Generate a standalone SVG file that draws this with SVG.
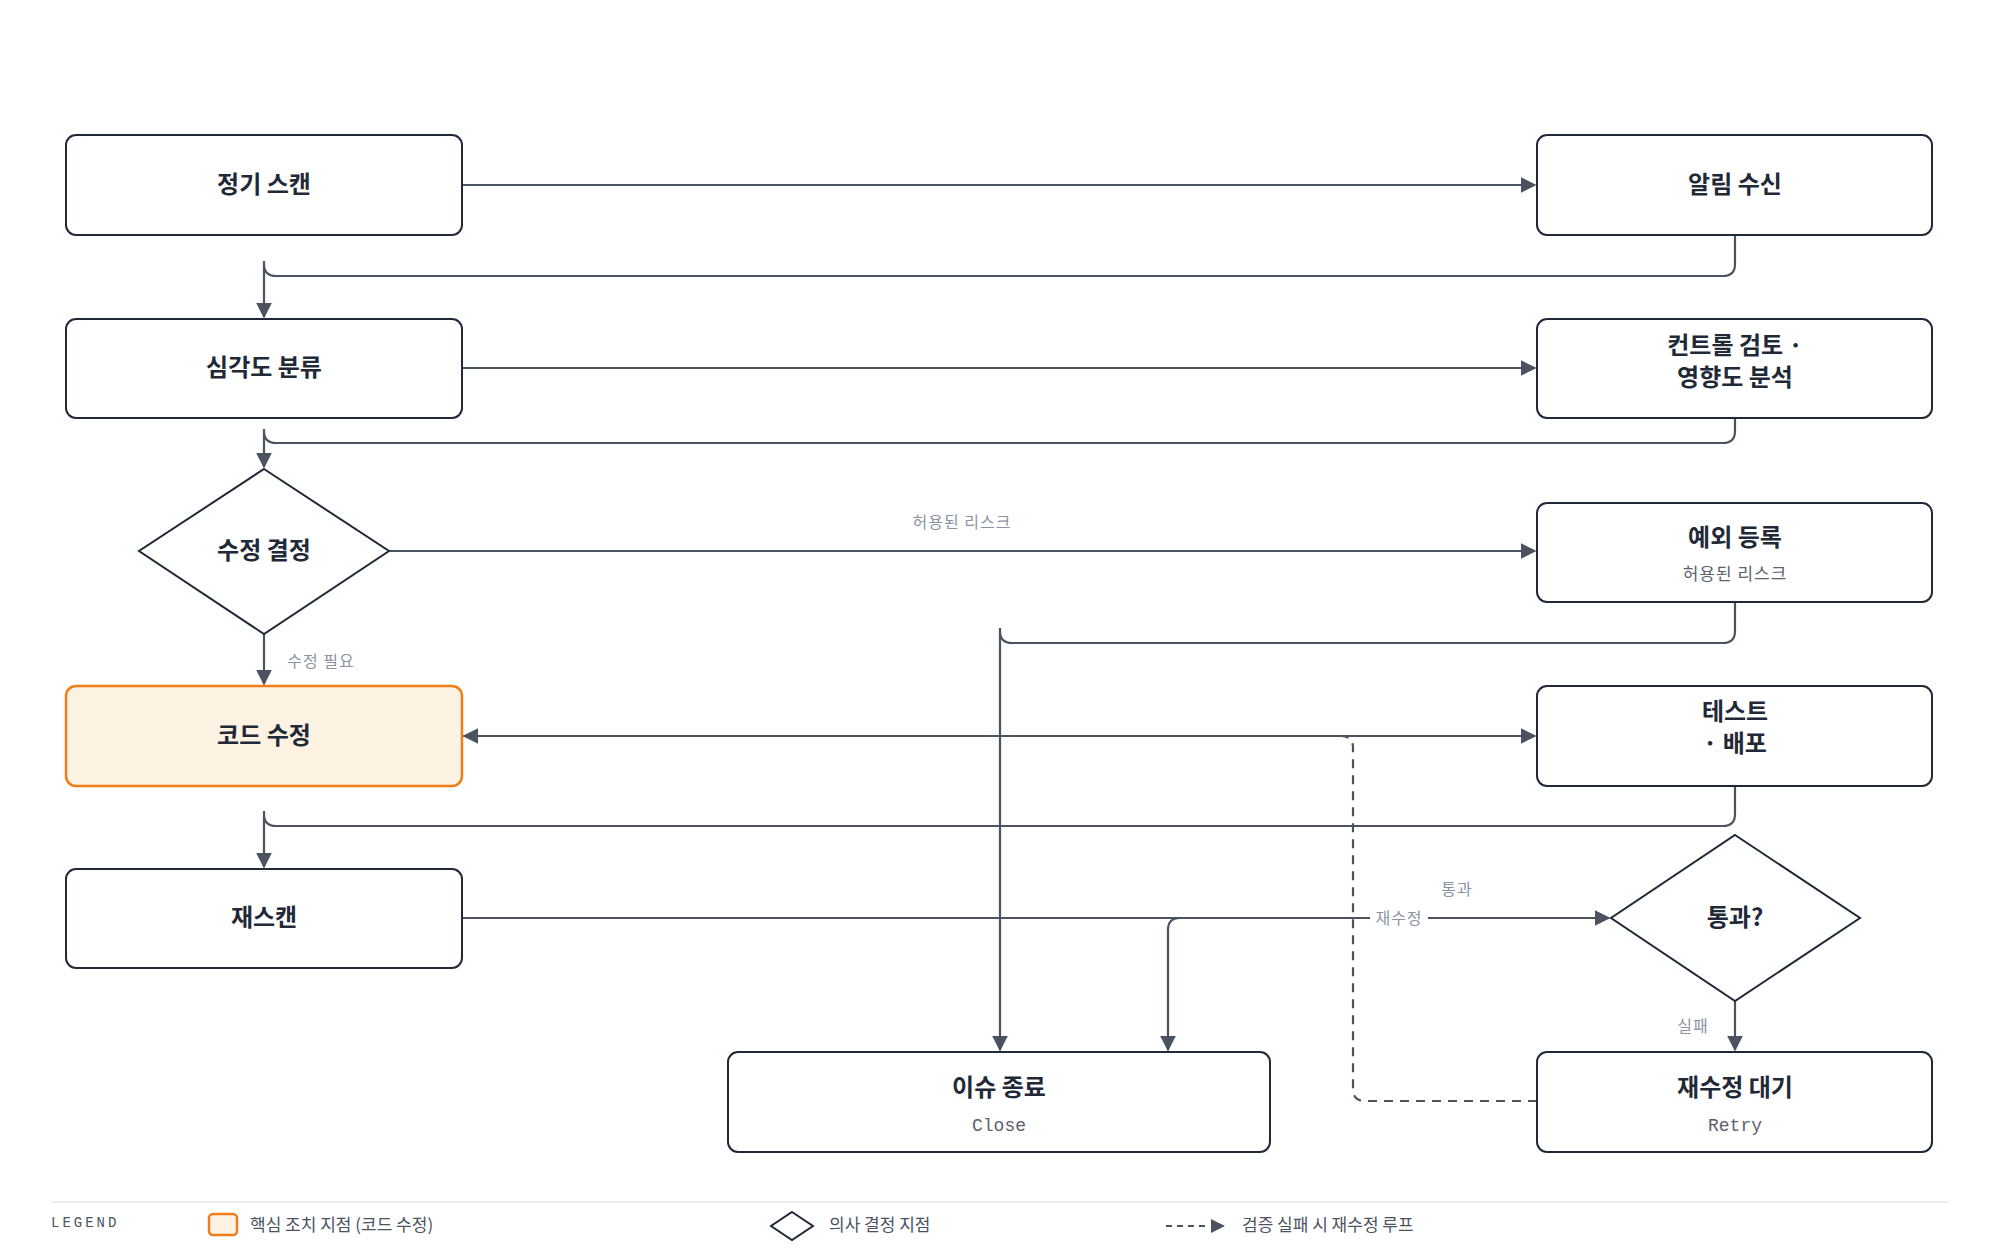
<svg xmlns="http://www.w3.org/2000/svg" width="2000" height="1252" viewBox="0 0 2000 1252">
<defs>
<marker id="ahL" viewBox="0 0 10 10" refX="9" refY="5" markerWidth="16" markerHeight="16" orient="auto" markerUnits="userSpaceOnUse">
<path d="M0,0 L10,5 L0,10 z" fill="#4b5260"/>
</marker>
<style>
.box{fill:#fff;stroke:#1f2937;stroke-width:2}
.key{fill:#fef3e2;stroke:#f07d1a;stroke-width:2.5}
.t{font-family:"Noto Sans CJK KR","Noto Sans",sans-serif;font-weight:700;font-size:24px;fill:#1f2937;text-anchor:middle}
.s{font-family:"Liberation Mono","DejaVu Sans Mono","Noto Sans CJK KR",monospace;font-size:18px;fill:#5b6270;text-anchor:middle}
.e{stroke:#4b5260;stroke-width:2.2;fill:none}
.d{stroke:#4b5260;stroke-width:2.2;fill:none;stroke-dasharray:9 7}
.l{font-family:"Noto Sans CJK KR","Noto Sans",sans-serif;font-size:16px;fill:#8a93a3;text-anchor:middle;letter-spacing:1px}
.lg{font-family:"Noto Sans CJK KR","Noto Sans",sans-serif;font-size:17px;fill:#4b5260}
</style>
</defs>
<g id="connectors">
<path class="e" d="M462 185 H1535" marker-end="url(#ahL)"/>
<path class="e" d="M1735 235 V264 Q1735 276 1723 276 H276 Q264 276 264 264 M264 261 V317" marker-end="url(#ahL)"/>
<path class="e" d="M462 368 H1535" marker-end="url(#ahL)"/>
<path class="e" d="M1735 418 V431 Q1735 443 1723 443 H276 Q264 443 264 431 M264 429 V467" marker-end="url(#ahL)"/>
<path class="e" d="M389 551 H1535" marker-end="url(#ahL)"/>
<path class="e" d="M264 634 V684" marker-end="url(#ahL)"/>
<path class="e" d="M1735 602 V631 Q1735 643 1723 643 H1012 Q1000 643 1000 631 M1000 628 V1050" marker-end="url(#ahL)"/>
<path class="d" d="M1537 1101 H1365 Q1353 1101 1353 1089 V748 Q1353 736 1341 736 H464" marker-end="url(#ahL)"/>
<path class="e" d="M462 736 H1535" marker-end="url(#ahL)"/>
<path class="e" d="M1735 786 V814 Q1735 826 1723 826 H276 Q264 826 264 814 M264 811 V867" marker-end="url(#ahL)"/>
<path class="e" d="M462 918 H1609" marker-end="url(#ahL)"/>
<path class="e" d="M1180 918 Q1168 918 1168 930 V1050" marker-end="url(#ahL)"/>
<path class="e" d="M1735 1001 V1050" marker-end="url(#ahL)"/>
<text class="l" x="962" y="528">허용된 리스크</text>
<text class="l" x="321" y="667">수정 필요</text>
<rect x="1370" y="906" width="58" height="24" fill="#fff"/>
<text class="l" x="1399" y="924">재수정</text>
<text class="l" x="1457" y="895">통과</text>
<text class="l" x="1693" y="1032">실패</text>
</g>
<g id="n1"><rect class="box" x="66" y="135" width="396" height="100" rx="10"/><text class="t" x="264" y="193">정기 스캔</text></g>
<g id="n2"><rect class="box" x="1537" y="135" width="395" height="100" rx="10"/><text class="t" x="1735" y="193">알림 수신</text></g>
<g id="n3"><rect class="box" x="66" y="319" width="396" height="99" rx="10"/><text class="t" x="264" y="376">심각도 분류</text></g>
<g id="n4"><rect class="box" x="1537" y="319" width="395" height="99" rx="10"/><text class="t" x="1735" y="354">컨트롤 검토 ·</text><text class="t" x="1735" y="386">영향도 분석</text></g>
<g id="n5"><path class="box" d="M264 469 L389 551 L264 634 L139 551 Z"/><text class="t" x="264" y="559">수정 결정</text></g>
<g id="n6"><rect class="box" x="1537" y="503" width="395" height="99" rx="10"/><text class="t" x="1735" y="546">예외 등록</text><text class="l" x="1735" y="580" style="fill:#5b6270;font-size:17px">허용된 리스크</text></g>
<g id="n7"><rect class="key" x="66" y="686" width="396" height="100" rx="10"/><text class="t" x="264" y="744">코드 수정</text></g>
<g id="n8"><rect class="box" x="1537" y="686" width="395" height="100" rx="10"/><text class="t" x="1735" y="720">테스트</text><text class="t" x="1735" y="752">· 배포</text></g>
<g id="n9"><rect class="box" x="66" y="869" width="396" height="99" rx="10"/><text class="t" x="264" y="926">재스캔</text></g>
<g id="n10"><path class="box" d="M1735 835 L1860 918 L1735 1001 L1611 918 Z"/><text class="t" x="1735" y="926">통과?</text></g>
<g id="n11"><rect class="box" x="728" y="1052" width="542" height="100" rx="10"/><text class="t" x="999" y="1096">이슈 종료</text><text class="s" x="999" y="1131">Close</text></g>
<g id="n12"><rect class="box" x="1537" y="1052" width="395" height="100" rx="10"/><text class="t" x="1735" y="1096">재수정 대기</text><text class="s" x="1735" y="1131">Retry</text></g>
<g id="legend">
<line x1="51" y1="1202" x2="1949" y2="1202" stroke="#ececec" stroke-width="2"/>
<text x="51" y="1227" style="font-family:'Liberation Mono',monospace;font-size:14px;fill:#4b5260;letter-spacing:3px">LEGEND</text>
<rect x="209" y="1214" width="28" height="21" rx="4" fill="#fef3e2" stroke="#f07d1a" stroke-width="2.5"/>
<text class="lg" x="250" y="1231">핵심 조치 지점 (코드 수정)</text>
<path d="M792 1212 L813 1226 L792 1240 L771 1226 Z" fill="#fff" stroke="#1f2937" stroke-width="2"/>
<text class="lg" x="829" y="1231">의사 결정 지점</text>
<path class="d" d="M1166 1226 H1210" style="stroke-dasharray:6 5"/>
<path d="M1211 1219 L1225 1226 L1211 1233 Z" fill="#4b5260"/>
<text class="lg" x="1242" y="1231">검증 실패 시 재수정 루프</text>
</g>
</svg>
